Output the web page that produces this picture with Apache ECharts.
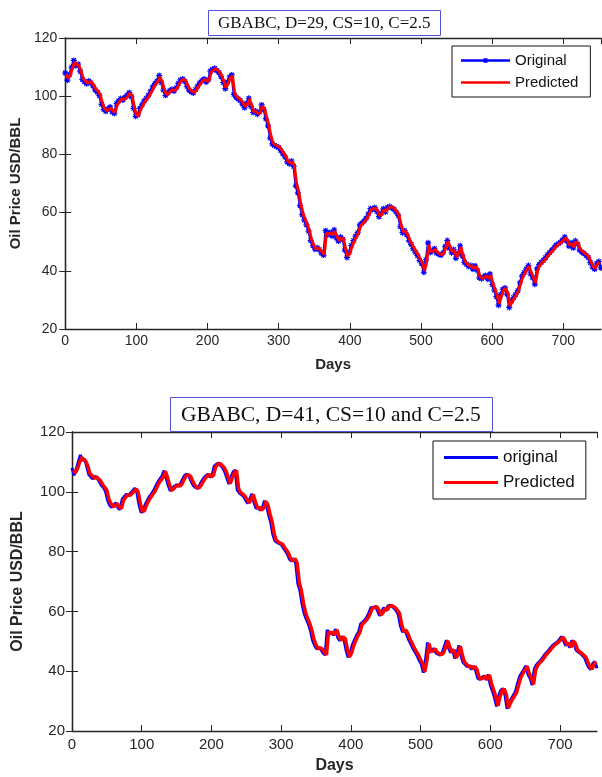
<!DOCTYPE html>
<html>
<head>
<meta charset="utf-8">
<script src="https://cdn.jsdelivr.net/npm/echarts@6/dist/echarts.min.js"></script>
<style>
  html, body { margin: 0; padding: 0; background: #fff; }
  #chart { width: 602px; height: 777px; }
</style>
</head>
<body>
<div id="chart"></div>
<script>
// Daily oil price (USD/BBL), sampled every DAY_STEP days
const DAY_STEP = 3;

// Original price, first sample on day 0
const originalStart = 0;
const original = [
  108.0, 105.5, 107.5, 110.0, 112.3, 110.5, 111.0, 108.6, 105.8, 105.0,
  104.3, 105.2, 104.6, 103.5, 102.2, 101.4, 100.2, 97.2, 95.5, 94.8,
  95.6, 96.3, 94.6, 94.1, 97.5, 98.4, 99.2, 98.7, 99.6, 100.3,
  101.2, 99.8, 95.8, 93.1, 93.6, 95.8, 97.1, 98.4, 99.3, 100.4,
  101.8, 103.2, 104.3, 105.2, 107.1, 104.7, 102.1, 100.3, 101.2, 101.9,
  102.4, 101.8, 102.9, 104.4, 105.6, 105.9, 105.1, 103.4, 102.1, 101.5,
  101.1, 102.3, 103.5, 104.6, 105.4, 105.9, 104.9, 105.6, 108.6, 109.2,
  109.6, 108.8, 108.1, 106.7, 104.7, 102.6, 104.9, 106.6, 107.3, 100.6,
  99.6, 99.1, 98.5, 97.3, 96.1, 97.6, 99.3, 96.5, 94.4, 94.9,
  93.8, 94.6, 97.0, 95.4, 92.3, 89.8, 85.7, 83.6, 83.1, 82.7,
  82.4, 81.3, 80.2, 79.1, 77.4, 76.8, 77.7, 75.9, 69.2, 66.8,
  62.4, 59.3, 57.4, 55.8, 53.6, 50.4, 48.6, 47.4, 47.9, 47.3,
  46.1, 45.4, 53.8, 52.4, 53.2, 52.0, 54.1, 51.3, 50.2, 51.6,
  50.8, 47.1, 44.6, 46.3, 48.7, 50.4, 51.9, 53.1, 55.8, 56.4,
  57.1, 58.1, 59.6, 61.4, 61.1, 61.7, 60.4, 58.6, 59.7, 61.3,
  60.2, 61.8, 62.1, 61.6, 61.1, 60.2, 59.0, 55.2, 53.1, 53.8,
  52.3, 50.4, 49.1, 47.6, 46.4, 45.2, 43.6, 42.4, 39.5, 43.8,
  49.6, 46.3, 46.9, 47.6, 46.1, 45.7, 45.4, 46.2, 48.3, 50.4,
  47.8, 46.2, 47.3, 44.3, 45.9, 48.6, 45.1, 42.9, 42.2, 41.5,
  41.8, 40.6, 41.7, 40.2, 37.6, 37.3, 37.9, 38.4, 37.1, 38.9,
  35.3, 33.4, 31.1, 28.2, 31.8, 33.6, 34.1, 32.0, 27.4, 29.6,
  30.8, 31.9, 33.2, 35.9, 38.2, 39.4, 40.6, 41.8, 38.9, 37.6,
  35.4, 40.7, 42.1, 42.9, 43.6, 44.5, 45.6, 46.3, 47.1, 48.0,
  48.8, 49.3, 49.8, 50.6, 51.6, 50.2, 48.5, 49.6, 47.9, 50.3,
  49.2, 47.1, 46.4, 46.0, 45.3, 44.6, 42.8, 41.3, 40.6, 42.6,
  43.2, 41.0
];

// GBABC prediction, D=29, first sample on day 1
const predD29Start = 1;
const predD29 = [
  107.6, 106.1, 107.2, 109.6, 111.8, 110.9, 110.6, 108.9, 106.3, 105.3,
  104.6, 104.9, 104.8, 103.8, 102.5, 101.7, 100.6, 97.8, 95.9, 95.1,
  95.3, 96.0, 95.0, 94.4, 96.9, 98.1, 99.0, 98.9, 99.3, 100.1,
  101.0, 100.2, 96.4, 93.5, 93.4, 95.4, 96.8, 98.1, 99.1, 100.1,
  101.5, 102.9, 104.1, 105.0, 106.6, 105.1, 102.5, 100.6, 100.9, 101.7,
  102.2, 102.0, 102.6, 104.1, 105.3, 105.8, 105.4, 103.8, 102.4, 101.7,
  101.3, 102.0, 103.2, 104.3, 105.2, 105.7, 105.2, 105.4, 108.1, 109.0,
  109.4, 109.0, 108.3, 107.0, 105.1, 102.9, 104.5, 106.3, 107.0, 101.3,
  99.9, 99.3, 98.7, 97.6, 96.4, 97.3, 99.0, 96.9, 94.7, 94.7,
  94.0, 94.4, 96.6, 95.8, 92.8, 90.3, 86.3, 84.0, 83.3, 82.9,
  82.6, 81.6, 80.5, 79.4, 77.7, 77.0, 77.5, 76.3, 70.1, 67.3,
  63.1, 59.9, 57.8, 56.1, 54.0, 50.9, 48.9, 47.6, 47.7, 47.5,
  46.4, 45.6, 52.9, 52.7, 53.0, 52.3, 53.7, 51.7, 50.4, 51.3,
  51.0, 47.6, 45.0, 46.0, 48.3, 50.1, 51.6, 52.9, 55.3, 56.2,
  56.9, 57.9, 59.3, 61.1, 61.3, 61.5, 60.7, 58.9, 59.4, 61.0,
  60.5, 61.5, 62.0, 61.8, 61.3, 60.4, 59.3, 55.8, 53.4, 53.6,
  52.6, 50.7, 49.4, 47.9, 46.6, 45.5, 43.9, 42.7, 40.0, 43.1,
  49.0, 46.7, 46.7, 47.4, 46.4, 45.8, 45.6, 46.0, 48.0, 50.1,
  48.2, 46.5, 47.1, 44.7, 45.6, 48.2, 45.5, 43.2, 42.4, 41.7,
  41.6, 40.9, 41.5, 40.5, 38.0, 37.4, 37.7, 38.3, 37.3, 38.6,
  35.8, 33.7, 31.5, 28.7, 31.3, 33.4, 34.0, 32.4, 27.9, 29.3,
  30.6, 31.7, 33.0, 35.5, 37.9, 39.2, 40.4, 41.6, 39.3, 37.8,
  35.8, 40.1, 41.9, 42.7, 43.4, 44.3, 45.4, 46.1, 46.9, 47.8,
  48.6, 49.2, 49.7, 50.4, 51.3, 50.5, 48.8, 49.4, 48.2, 50.0,
  49.4, 47.4, 46.6, 46.1, 45.5, 44.8, 43.1, 41.6, 40.8, 42.3,
  43.0
];

// GBABC prediction, D=41, first sample on day 2
const predD41Start = 2;
const predD41 = [
  107.2, 106.4, 107.8, 109.9, 111.5, 110.7, 110.2, 108.4, 106.0, 105.4,
  104.5, 105.0, 104.4, 103.7, 102.4, 101.5, 100.5, 97.5, 96.0, 95.0,
  95.4, 96.1, 94.8, 94.5, 97.2, 98.2, 98.9, 98.8, 99.4, 100.2,
  100.9, 99.9, 96.1, 93.4, 93.7, 95.6, 97.0, 98.2, 99.2, 100.2,
  101.6, 103.0, 104.0, 104.9, 106.8, 104.9, 102.3, 100.5, 101.0, 101.8,
  102.3, 101.9, 102.7, 104.2, 105.4, 105.7, 105.2, 103.6, 102.3, 101.6,
  101.2, 102.1, 103.3, 104.4, 105.3, 105.8, 105.0, 105.5, 108.3, 109.1,
  109.5, 108.9, 108.2, 106.9, 104.9, 102.8, 104.7, 106.4, 107.1, 101.0,
  99.7, 99.2, 98.6, 97.4, 96.3, 97.4, 99.1, 96.7, 94.6, 94.8,
  93.9, 94.5, 96.8, 95.6, 92.6, 90.0, 86.0, 83.8, 83.2, 82.8,
  82.5, 81.4, 80.4, 79.2, 77.5, 76.9, 77.6, 76.1, 69.7, 67.0,
  62.8, 59.6, 57.6, 56.0, 53.8, 50.7, 48.8, 47.5, 47.8, 47.4,
  46.3, 45.5, 53.3, 52.5, 53.1, 52.2, 53.9, 51.5, 50.3, 51.5,
  50.9, 47.4, 44.8, 46.1, 48.5, 50.2, 51.8, 53.0, 55.6, 56.3,
  57.0, 58.0, 59.4, 61.2, 61.2, 61.6, 60.6, 58.8, 59.5, 61.1,
  60.4, 61.6, 62.0, 61.7, 61.2, 60.3, 59.2, 55.5, 53.3, 53.7,
  52.5, 50.6, 49.3, 47.8, 46.5, 45.4, 43.8, 42.6, 39.8, 43.4,
  49.3, 46.5, 46.8, 47.5, 46.3, 45.8, 45.5, 46.1, 48.1, 50.2,
  48.0, 46.4, 47.2, 44.5, 45.7, 48.4, 45.3, 43.0, 42.3, 41.6,
  41.7, 40.8, 41.6, 40.4, 37.8, 37.4, 37.8, 38.3, 37.2, 38.7,
  35.6, 33.6, 31.3, 28.5, 31.5, 33.5, 34.1, 32.2, 27.7, 29.4,
  30.7, 31.8, 33.1, 35.7, 38.0, 39.3, 40.5, 41.7, 39.1, 37.7,
  35.6, 40.4, 42.0, 42.8, 43.5, 44.4, 45.5, 46.2, 47.0, 47.9,
  48.7, 49.2, 49.8, 50.5, 51.4, 50.4, 48.7, 49.5, 48.0, 50.1,
  49.3, 47.2, 46.5, 46.0, 45.4, 44.7, 43.0, 41.5, 40.7, 42.5,
  43.1
];

// Axis ranges and titles
const dayMax = 753;
const dayInterval = 100;
const priceMin = 20, priceMax = 120, priceInterval = 20;
const titles = ['GBABC, D=29, CS=10, C=2.5', 'GBABC, D=41, CS=10 and C=2.5'];
const legendNames = [['Original', 'Predicted'], ['original', 'Predicted']];

function toPoints(values, startDay) {
  return values.map((v, i) => [startDay + i * DAY_STEP, v]);
}

const AX = '#262626';
const SANS = 'Liberation Sans, Arial, sans-serif';
const SERIF = 'Liberation Serif, Times New Roman, serif';

function xAxes(g, fs, nameFs, nameGap, margin) {
  return [{
    gridIndex: g, type: 'value', min: 0, max: dayMax, interval: dayInterval,
    axisLine: { lineStyle: { color: AX, width: 1.3 } },
    axisTick: { inside: true, length: 6, lineStyle: { color: AX, width: 1 } },
    axisLabel: { showMaxLabel: false, margin: margin, fontSize: fs, color: AX, fontFamily: SANS },
    splitLine: { show: false },
    name: 'Days', nameLocation: 'middle', nameGap: nameGap,
    nameTextStyle: { fontFamily: SANS, fontWeight: 'bold', fontSize: nameFs, color: AX }
  }, {
    gridIndex: g, type: 'value', position: 'top', min: 0, max: dayMax, interval: dayInterval,
    axisLine: { lineStyle: { color: AX, width: 1.3 } },
    axisTick: { inside: true, length: 6, lineStyle: { color: AX, width: 1 } },
    axisLabel: { show: false }, splitLine: { show: false }
  }];
}

function yAxes(g, fs, nameFs, nameGap, margin) {
  return [{
    gridIndex: g, type: 'value', min: priceMin, max: priceMax, interval: priceInterval,
    axisLine: { show: true, lineStyle: { color: AX, width: 1.3 } },
    axisTick: { show: true, inside: true, length: 6, lineStyle: { color: AX, width: 1 } },
    axisLabel: { margin: margin, fontSize: fs, color: AX, fontFamily: SANS },
    splitLine: { show: false },
    name: 'Oil Price USD/BBL', nameLocation: 'middle', nameRotate: 90, nameGap: nameGap,
    nameTextStyle: { fontFamily: SANS, fontWeight: 'bold', fontSize: nameFs, color: AX }
  }, {
    gridIndex: g, type: 'value', position: 'right', min: priceMin, max: priceMax, interval: priceInterval,
    axisLine: { show: true, lineStyle: { color: AX, width: 1.3 } },
    axisTick: { show: true, inside: true, length: 6, lineStyle: { color: AX, width: 1 } },
    axisLabel: { show: false }, splitLine: { show: false }
  }];
}

// MATLAB-style asterisk marker
const STAR = 'path://M0,-5L0,5M-5,0L5,0M-3.6,-3.6L3.6,3.6M-3.6,3.6L3.6,-3.6';
// Legend keys: plain line, and line with a small marker in the middle
const KEY_LINE = 'path://M0,2.7L49,2.7L49,5.3L0,5.3Z';
const KEY_MARKED = 'path://M0,2.7L49,2.7L49,5.3L0,5.3Z M22.5,1.8L26.5,1.8L26.5,6.2L22.5,6.2Z';
const KEY_STYLE = { borderWidth: 0 };

const option = {
  animation: false,
  backgroundColor: '#fff',
  title: [{
    text: titles[0], left: 208, top: 10,
    borderColor: '#5252d6', borderWidth: 1, padding: [5, 10, 4, 10],
    textStyle: { fontFamily: SERIF, fontSize: 17, fontWeight: 'normal', color: '#111' }
  }, {
    text: titles[1], left: 170, top: 397,
    borderColor: '#5252d6', borderWidth: 1, padding: [7, 12, 6, 11],
    textStyle: { fontFamily: SERIF, fontSize: 21.5, fontWeight: 'normal', color: '#111' }
  }],
  legend: [{
    data: [
      { name: legendNames[0][0], icon: KEY_MARKED, itemStyle: KEY_STYLE },
      { name: legendNames[0][1], icon: KEY_LINE, itemStyle: KEY_STYLE }
    ],
    orient: 'vertical', left: 452, top: 46,
    backgroundColor: '#fff', borderColor: '#111', borderWidth: 1,
    padding: [7, 12, 7, 9], itemGap: 7, itemWidth: 49, itemHeight: 8,
    itemStyle: KEY_STYLE, lineStyle: { width: 0 },
    textStyle: { fontFamily: SANS, fontSize: 15, color: '#111' }
  }, {
    data: [
      { name: legendNames[1][0], icon: KEY_LINE, itemStyle: KEY_STYLE },
      { name: legendNames[1][1], icon: KEY_LINE, itemStyle: KEY_STYLE }
    ],
    orient: 'vertical', left: 433, top: 441,
    backgroundColor: '#fff', borderColor: '#111', borderWidth: 1,
    padding: [8, 11, 8, 11], itemGap: 8, itemWidth: 54, itemHeight: 9,
    itemStyle: KEY_STYLE, lineStyle: { width: 0 },
    textStyle: { fontFamily: SANS, fontSize: 17, color: '#111' }
  }],
  grid: [
    { left: 61, top: 38, width: 540, height: 291 },
    { left: 72, top: 432, width: 525, height: 299 }
  ],
  xAxis: [...xAxes(0, 14, 15, 28, 5), ...xAxes(1, 15, 16, 27, 6)],
  yAxis: [...yAxes(0, 14, 15, 34, 8), ...yAxes(1, 15, 16, 46, 7)],
  series: [{
    name: legendNames[0][0], type: 'line', xAxisIndex: 0, yAxisIndex: 0,
    data: toPoints(original, originalStart),
    symbol: STAR, symbolSize: 6, showAllSymbol: true,
    itemStyle: { color: '#0000ff', borderColor: '#0000ff', borderWidth: 1.2 },
    lineStyle: { color: '#0000ff', width: 2.5 }, z: 2
  }, {
    name: legendNames[0][1], type: 'line', xAxisIndex: 0, yAxisIndex: 0,
    data: toPoints(predD29, predD29Start),
    symbol: 'none', itemStyle: { color: '#ff0000' },
    lineStyle: { color: '#ff0000', width: 3 }, z: 3
  }, {
    name: legendNames[1][0], type: 'line', xAxisIndex: 2, yAxisIndex: 2,
    data: toPoints(original, originalStart),
    symbol: 'none', itemStyle: { color: '#0000ff' },
    lineStyle: { color: '#0000ff', width: 3 }, z: 2
  }, {
    name: legendNames[1][1], type: 'line', xAxisIndex: 2, yAxisIndex: 2,
    data: toPoints(predD41, predD41Start),
    symbol: 'none', itemStyle: { color: '#ff0000' },
    lineStyle: { color: '#ff0000', width: 3.5 }, z: 3
  }]
};

const chart = echarts.init(document.getElementById('chart'), null, { renderer: 'canvas' });
chart.setOption(option);
</script>
</body>
</html>
